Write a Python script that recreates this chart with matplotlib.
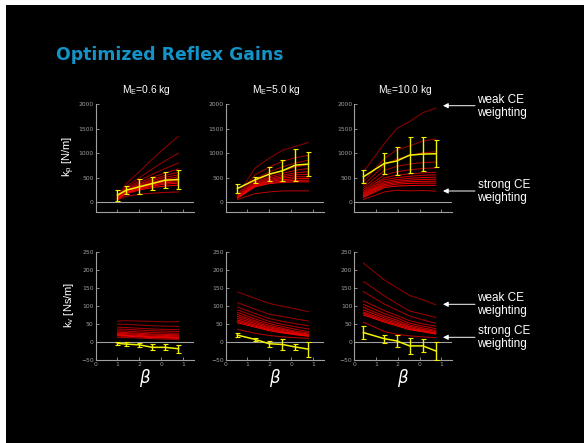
import numpy as np
import matplotlib
matplotlib.use('Agg')
import matplotlib.pyplot as plt
from matplotlib.patches import Rectangle, FancyArrowPatch

W, H = 584, 443

plt.rcParams['mathtext.fontset'] = 'custom'
plt.rcParams['mathtext.rm'] = 'Liberation Sans'

# beta sample positions for each mass condition
beta_06 = [1.0, 1.4, 2.0, 2.6, 3.2, 3.8]
beta_50 = [0.54, 1.35, 2.0, 2.6, 3.2, 3.8]
beta_100 = [0.42, 1.38, 1.94, 2.54, 3.15, 3.74]

masses = ['0.6', '5.0', '10.0']
beta_ticks = [0, 1, 2, 3, 4]
beta_ticklabels = ['0', '1', '2', '0', '1']

# position gain kp [N/m], one row per CE weighting (weak -> strong)
kp_06 = [
    [130, 380, 620, 880, 1120, 1350],
    [120, 320, 500, 680, 850, 1000],
    [110, 290, 440, 570, 690, 800],
    [100, 270, 400, 510, 600, 680],
    [95, 250, 370, 470, 550, 610],
    [90, 240, 350, 440, 510, 560],
    [85, 230, 330, 410, 470, 520],
    [80, 220, 315, 390, 445, 480],
    [75, 210, 300, 370, 420, 450],
    [70, 200, 285, 350, 395, 420],
    [65, 190, 270, 330, 370, 390],
    [60, 175, 250, 300, 330, 350],
    [50, 120, 160, 185, 200, 210],
]
kp_50 = [
    [150, 700, 900, 1060, 1140, 1220],
    [140, 560, 720, 830, 910, 960],
    [130, 480, 620, 720, 800, 860],
    [120, 440, 560, 640, 720, 770],
    [115, 410, 520, 590, 650, 690],
    [110, 390, 490, 550, 600, 620],
    [105, 370, 460, 520, 560, 570],
    [100, 360, 440, 490, 520, 520],
    [95, 345, 420, 460, 480, 485],
    [90, 330, 400, 430, 445, 450],
    [85, 315, 380, 405, 415, 415],
    [55, 175, 210, 230, 232, 232],
]
kp_100 = [
    [620, 1200, 1500, 1650, 1830, 1920],
    [420, 890, 1070, 1150, 1250, 1290],
    [350, 760, 880, 950, 1010, 1030],
    [300, 650, 730, 780, 810, 820],
    [260, 560, 620, 660, 690, 700],
    [230, 500, 550, 580, 600, 610],
    [200, 460, 500, 530, 550, 560],
    [180, 420, 460, 490, 505, 510],
    [160, 390, 430, 450, 465, 470],
    [140, 360, 400, 420, 425, 430],
    [120, 330, 370, 385, 390, 390],
    [100, 300, 330, 340, 345, 345],
    [55, 210, 245, 232, 240, 225],
]

# mean kp and spread
kp_mean_06 = [143, 245, 314, 382, 450, 464]
kp_err_06 = [110, 85, 150, 125, 165, 185]
kp_mean_50 = [280, 457, 573, 642, 758, 778]
kp_err_50 = [82, 65, 140, 210, 330, 240]
kp_mean_100 = [519, 792, 840, 962, 983, 990]
kp_err_100 = [130, 210, 280, 375, 345, 280]

# velocity gain kv [Ns/m]
kv_06 = [
    [59, 60, 59, 58, 57, 57],
    [50, 50, 48, 46, 45, 44],
    [42, 41, 39, 37, 36, 35],
    [37, 36, 34, 32, 31, 30],
    [32, 31, 29, 27, 26, 25],
    [28, 27, 25, 23, 22, 21],
    [25, 24, 22, 20, 19, 18],
    [22, 21, 19, 17, 16, 15],
    [20, 19, 17, 15, 14, 13],
    [18, 17, 15, 13, 12, 11],
    [14, 13, 12, 10, 9, 8],
]
kv_50 = [
    [140, 122, 108, 100, 93, 85],
    [110, 92, 78, 72, 65, 59],
    [98, 80, 66, 58, 52, 46],
    [90, 72, 58, 50, 43, 37],
    [83, 65, 52, 44, 36, 30],
    [77, 60, 47, 39, 31, 26],
    [72, 56, 43, 36, 28, 23],
    [67, 52, 40, 33, 26, 21],
    [62, 48, 37, 30, 24, 20],
    [58, 45, 35, 28, 22, 18],
    [54, 42, 32, 26, 21, 17],
    [36, 25, 19, 15, 13, 11],
]
kv_100 = [
    [220, 173, 152, 130, 118, 104],
    [169, 129, 108, 87, 78, 69],
    [141, 106, 90, 73, 62, 53],
    [115, 88, 75, 60, 51, 45],
    [105, 80, 68, 53, 45, 38],
    [97, 73, 62, 48, 40, 33],
    [90, 68, 57, 44, 36, 30],
    [84, 63, 53, 41, 33, 27],
    [80, 59, 49, 38, 31, 25],
    [76, 56, 46, 35, 29, 23],
    [56, 30, 22, 18, 15, 13],
]

kv_mean_06 = [-3, -5, -7, -14, -14, -18]
kv_err_06 = [5, 5, 5, 8, 8, 11]
kv_mean_50 = [20, 8, -4, -6, -13, -19]
kv_err_50 = [6, 5, 9, 16, 7, 21]
kv_mean_100 = [27, 10, 4, -10, -10, -24]
kv_err_100 = [17, 11, 17, 22, 18, 25]

betas = [beta_06, beta_50, beta_100]
kp_all = [kp_06, kp_50, kp_100]
kv_all = [kv_06, kv_50, kv_100]
kp_means = [(kp_mean_06, kp_err_06), (kp_mean_50, kp_err_50), (kp_mean_100, kp_err_100)]
kv_means = [(kv_mean_06, kv_err_06), (kv_mean_50, kv_err_50), (kv_mean_100, kv_err_100)]

AXCOL = '#a0a0a0'
YEL = '#f2f200'


def fx(px):
    return px / W


def fy(py):
    return 1 - py / H


def red_colors(n):
    # dark red for weak CE weighting, brighter toward strong
    cols = [(0.55 + 0.45 * i / (n - 1), 0.0, 0.0) for i in range(n)]
    cols[-1] = (0.7, 0.0, 0.0)
    return cols


def style_axis(ax, ylim, yticks, show_xlabels):
    ax.set_facecolor('none')
    ax.set_xlim(0, 4.5)
    ax.set_ylim(*ylim)
    for s in ['top', 'right']:
        ax.spines[s].set_visible(False)
    for s in ['left', 'bottom']:
        ax.spines[s].set_color(AXCOL)
        ax.spines[s].set_linewidth(0.8)
    ax.set_yticks(yticks)
    ax.set_xticks(beta_ticks)
    if show_xlabels:
        ax.set_xticklabels(beta_ticklabels)
    else:
        ax.set_xticklabels([])
    ax.tick_params(colors=AXCOL, labelcolor=AXCOL, labelsize=4.3,
                   direction='in', length=2, width=0.6, pad=1.5)
    ax.axhline(0, color=AXCOL, lw=0.8, zorder=1)


def draw_panel(ax, x, curves, mean, err):
    cols = red_colors(len(curves))
    for c, col in zip(curves, cols):
        ax.plot(x, c, color=col, lw=0.75, zorder=2)
    ax.errorbar(x, mean, yerr=err, color=YEL, lw=1.1, elinewidth=1.0,
                capsize=1.8, capthick=0.8, zorder=3)


fig = plt.figure(figsize=(W / 100, H / 100), dpi=100)
fig.patch.set_facecolor('white')
fig.patches.append(Rectangle((fx(6), 0), 1 - fx(6), fy(5), transform=fig.transFigure,
                             facecolor='black', edgecolor='none', zorder=-10))

fig.text(fx(56.5), fy(55), 'Optimized Reflex Gains', color='#1393c7',
         fontsize=12.4, fontweight='bold', family='DejaVu Sans', va='center', ha='left')

lefts = [95.7, 225.7, 354.3]
aw = 98.0
rows = [(104.3, 212.0), (252.3, 360.3)]

for i in range(3):
    L = lefts[i]
    # top row: kp
    top, bot = rows[0]
    ax = fig.add_axes([fx(L), fy(bot), aw / W, (bot - top) / H])
    style_axis(ax, (-200, 2000), [0, 500, 1000, 1500, 2000], False)
    draw_panel(ax, betas[i], kp_all[i], *kp_means[i])
    fig.text(fx(L + aw / 2 + 2), fy(90), r'M$_\mathregular{E}$=' + masses[i] + ' kg',
             color='white', fontsize=7.4, family='Liberation Sans', ha='center', va='center')

    # bottom row: kv
    top, bot = rows[1]
    ax = fig.add_axes([fx(L), fy(bot), aw / W, (bot - top) / H])
    style_axis(ax, (-50, 250), [-50, 0, 50, 100, 150, 200, 250], True)
    draw_panel(ax, betas[i], kv_all[i], *kv_means[i])
    fig.text(fx(L + aw / 2), fy(378), r'$\beta$', color='white', fontsize=12,
             family='Liberation Serif', style='italic', ha='center', va='center')

fig.text(fx(69), fy(156), r'k$_\mathregular{p}$ [N/m]', color='white', fontsize=8,
         family='Liberation Sans', rotation=90, ha='center', va='center')
fig.text(fx(69), fy(305), r'k$_\mathregular{v}$ [Ns/m]', color='white', fontsize=8,
         family='Liberation Sans', rotation=90, ha='center', va='center')

# weighting annotations on the right
notes = [('weak CE\nweighting', 105.7), ('strong CE\nweighting', 191.0),
         ('weak CE\nweighting', 304.3), ('strong CE\nweighting', 337.3)]
for txt, yy in notes:
    fig.text(fx(477.5), fy(yy + 0.5), txt, color='white', fontsize=8.5,
             family='Liberation Sans', ha='left', va='center', linespacing=1.15)
    fig.add_artist(FancyArrowPatch(
        (fx(475), fy(yy)), (fx(443), fy(yy)), transform=fig.transFigure,
        arrowstyle='-|>,head_length=3,head_width=1.5', color='white', lw=0.7,
        shrinkA=0, shrinkB=0))

fig.savefig('out.png', dpi=100)
